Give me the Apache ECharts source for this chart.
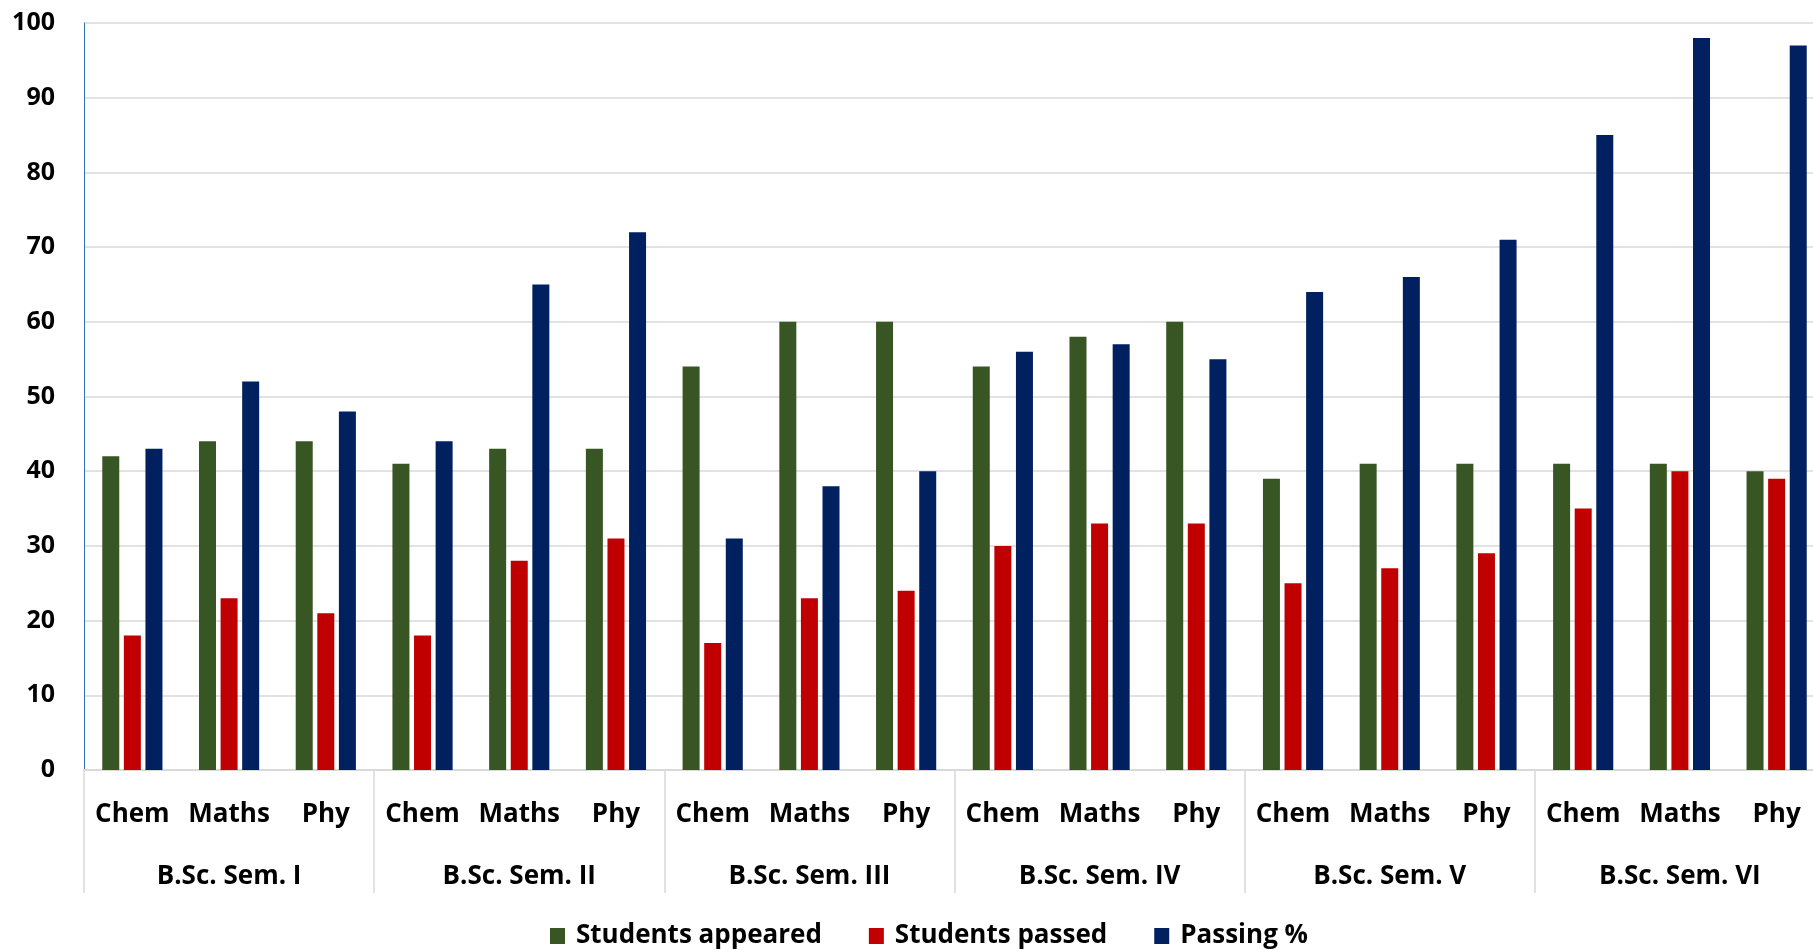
<!DOCTYPE html>
<html>
<head>
<meta charset="utf-8">
<script src="https://cdn.jsdelivr.net/npm/echarts@6/dist/echarts.min.js"></script>
<style>
html,body{margin:0;padding:0;background:#fff;overflow:hidden;}
#chart{width:1813px;height:950px;}
</style>
</head>
<body>
<div id="chart"></div>
<script>
const semesters = ['B.Sc. Sem. I','B.Sc. Sem. II','B.Sc. Sem. III','B.Sc. Sem. IV','B.Sc. Sem. V','B.Sc. Sem. VI'];
const subjects = ['Chem','Maths','Phy'];
const appeared = [42,44,44, 41,43,43, 54,60,60, 54,58,60, 39,41,41, 41,41,40];
const passed   = [18,23,21, 18,28,31, 17,23,24, 30,33,33, 25,27,29, 35,40,39];
const passingPct = [43,52,48, 44,65,72, 31,38,40, 56,57,55, 64,66,71, 85,98,97];
const yTicks = {min:0, max:100, interval:10};

const subCats = [];
semesters.forEach(() => subjects.forEach(s => subCats.push(s)));

const FONT = '"Open Sans"';
const chart = echarts.init(document.getElementById('chart'), null, {renderer:'canvas'});
const barStyle = {barWidth:17, barGap:'27%', barCategoryGap:'38%'};
chart.setOption({
  animation:false,
  backgroundColor:'#ffffff',
  textStyle:{fontFamily:FONT},
  grid:{left:84, top:23, width:1741, height:747, containLabel:false, outerBoundsMode:'none'},
  legend:{
    left:545, top:918, icon:'rect', itemWidth:15, itemHeight:16, itemGap:47,
    textStyle:{fontFamily:FONT, fontSize:26, fontWeight:'bold', color:'#000', padding:[0,0,0,6]},
    data:['Students appeared','Students passed','Passing %']
  },
  xAxis:[
    {type:'category', data:subCats, position:'bottom',
     axisLine:{show:true, lineStyle:{color:'#d9d9d9', width:2}},
     axisTick:{show:false},
     axisLabel:{interval:0, margin:32, fontFamily:FONT, fontSize:26, fontWeight:'bold', color:'#000'}},
    {type:'category', data:semesters, position:'bottom',
     axisLine:{show:false},
     axisTick:{show:true, interval:0, length:123, lineStyle:{color:'#d9d9d9', width:1.5}},
     axisLabel:{interval:0, margin:94, fontFamily:FONT, fontSize:26, fontWeight:'bold', color:'#000'}}
  ],
  yAxis:{type:'value', min:yTicks.min, max:yTicks.max, interval:yTicks.interval,
    axisLine:{show:true, lineStyle:{color:'#2e75b6', width:1}},
    axisTick:{show:false},
    splitLine:{lineStyle:{color:'#d9d9d9', width:1.5}},
    axisLabel:{margin:29, fontFamily:FONT, fontSize:25, fontWeight:'bold', color:'#000'}},
  series:[
    Object.assign({name:'Students appeared', type:'bar', data:appeared, itemStyle:{color:'#375623'}}, barStyle),
    Object.assign({name:'Students passed', type:'bar', data:passed, itemStyle:{color:'#c00000'}}, barStyle),
    Object.assign({name:'Passing %', type:'bar', data:passingPct, itemStyle:{color:'#002060'}}, barStyle)
  ]
});
</script>
</body>
</html>
